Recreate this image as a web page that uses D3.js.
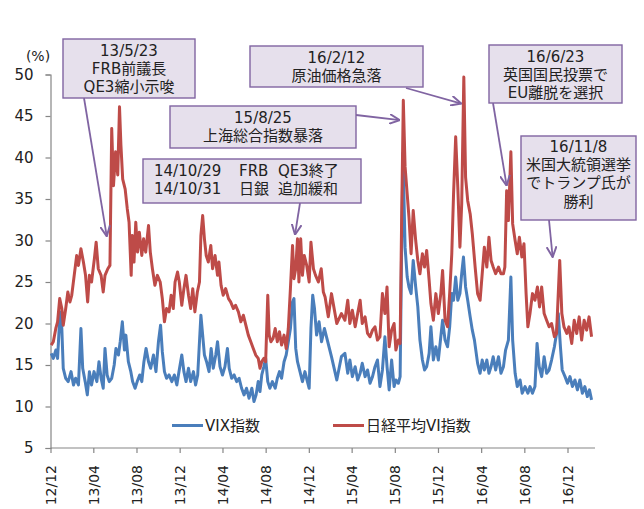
<!DOCTYPE html>
<html><head><meta charset="utf-8">
<script src="https://cdn.jsdelivr.net/npm/d3@7"></script>
<style>
html,body{margin:0;padding:0;background:#fff;}
svg text{font-family:'DejaVu Sans','Noto Sans CJK JP',sans-serif;fill:#222;}
</style></head>
<body><svg id="c" width="644" height="509"></svg>
<script>
// ---------- data ----------
const seriesNames = ["VIX指数", "日経平均VI指数"];
const yTickValues = [5,10,15,20,25,30,35,40,45,50];
const xTickLabels = ["12/12","13/04","13/08","13/12","14/04","14/08","14/12","15/04","15/08","15/12","16/04","16/08","16/12"];

const vixDates = ["2012-12-03","2012-12-09","2012-12-16","2012-12-21","2012-12-28","2013-01-02","2013-01-06","2013-01-13","2013-01-20","2013-01-28","2013-02-04","2013-02-10","2013-02-18","2013-02-25","2013-03-02","2013-03-09","2013-03-15","2013-03-21","2013-03-27","2013-04-03","2013-04-11","2013-04-17","2013-04-23","2013-04-29","2013-05-04","2013-05-10","2013-05-16","2013-05-23","2013-05-30","2013-06-04","2013-06-11","2013-06-16","2013-06-22","2013-06-28","2013-07-02","2013-07-09","2013-07-16","2013-07-21","2013-07-28","2013-08-03","2013-08-10","2013-08-16","2013-08-22","2013-08-28","2013-09-04","2013-09-10","2013-09-18","2013-09-25","2013-10-02","2013-10-08","2013-10-13","2013-10-19","2013-10-25","2013-11-01","2013-11-09","2013-11-16","2013-11-23","2013-11-29","2013-12-07","2013-12-13","2013-12-19","2013-12-26","2014-01-01","2014-01-09","2014-01-15","2014-01-21","2014-01-26","2014-01-30","2014-02-04","2014-02-09","2014-02-15","2014-02-22","2014-02-28","2014-03-06","2014-03-13","2014-03-18","2014-03-25","2014-04-01","2014-04-08","2014-04-15","2014-04-20","2014-04-27","2014-05-04","2014-05-11","2014-05-18","2014-05-25","2014-06-01","2014-06-08","2014-06-15","2014-06-23","2014-06-29","2014-07-05","2014-07-11","2014-07-16","2014-07-21","2014-07-27","2014-08-01","2014-08-07","2014-08-13","2014-08-20","2014-08-28","2014-09-03","2014-09-09","2014-09-15","2014-09-22","2014-09-28","2014-10-04","2014-10-10","2014-10-16","2014-10-20","2014-10-25","2014-10-30","2014-11-06","2014-11-13","2014-11-20","2014-11-27","2014-12-02","2014-12-07","2014-12-12","2014-12-17","2014-12-23","2014-12-30","2015-01-06","2015-01-14","2015-01-20","2015-02-03","2015-02-18","2015-03-03","2015-03-13","2015-03-21","2015-03-27","2015-04-03","2015-04-11","2015-04-18","2015-04-25","2015-05-01","2015-05-09","2015-05-16","2015-05-23","2015-05-30","2015-06-06","2015-06-13","2015-06-20","2015-06-27","2015-07-04","2015-07-10","2015-07-16","2015-07-23","2015-07-30","2015-08-04","2015-08-11","2015-08-16","2015-08-20","2015-08-24","2015-08-30","2015-09-05","2015-09-10","2015-09-16","2015-09-22","2015-09-29","2015-10-05","2015-10-11","2015-10-18","2015-10-24","2015-10-30","2015-11-06","2015-11-11","2015-11-18","2015-11-25","2015-12-02","2015-12-09","2015-12-14","2015-12-21","2015-12-28","2016-01-03","2016-01-09","2016-01-14","2016-01-20","2016-01-26","2016-02-01","2016-02-06","2016-02-11","2016-02-17","2016-02-23","2016-03-01","2016-03-07","2016-03-13","2016-03-22","2016-03-29","2016-04-04","2016-04-10","2016-04-17","2016-04-23","2016-04-29","2016-05-05","2016-05-12","2016-05-20","2016-05-27","2016-06-03","2016-06-09","2016-06-17","2016-06-24","2016-06-29","2016-07-06","2016-07-12","2016-07-20","2016-07-26","2016-08-03","2016-08-11","2016-08-17","2016-08-24","2016-08-31","2016-09-06","2016-09-12","2016-09-19","2016-09-26","2016-10-03","2016-10-10","2016-10-17","2016-10-25","2016-10-31","2016-11-05","2016-11-11","2016-11-16","2016-11-24","2016-12-01","2016-12-08","2016-12-15","2016-12-22","2016-12-29","2017-01-05","2017-01-12","2017-01-19","2017-01-26","2017-02-01","2017-02-07"];
const vixValues = [16.4,15.8,16.8,15.8,21.4,19.4,14.6,13.4,13.0,14.2,12.6,13.4,12.6,19.4,14.6,13.0,11.4,14.2,12.6,14.2,13.0,15.4,13.4,12.2,17.0,13.8,13.0,13.4,15.0,17.0,16.2,17.8,20.2,16.8,18.6,15.4,14.2,13.0,12.2,13.0,13.8,13.0,15.4,17.0,15.4,14.6,16.2,14.2,17.8,19.8,16.6,14.2,13.4,13.8,13.0,13.8,12.6,14.2,16.2,14.2,13.0,14.6,13.0,14.2,12.6,13.8,17.8,21.0,18.6,16.2,15.4,14.2,17.0,14.6,16.2,17.8,14.8,13.8,14.8,17.0,14.6,13.4,13.8,13.0,13.4,12.2,11.4,12.2,11.0,12.2,10.6,11.4,13.0,11.8,13.8,14.8,15.8,13.0,12.2,13.0,12.2,13.4,14.2,13.4,15.4,16.2,17.8,19.4,22.6,23.0,17.0,15.4,14.2,13.0,14.2,13.0,12.2,19.4,23.4,21.8,18.6,20.2,17.8,19.4,18.4,16.0,13.2,16.0,16.4,14.0,15.6,13.6,14.8,13.2,14.0,15.2,13.6,14.4,12.8,13.6,14.8,15.6,12.4,14.4,18.4,14.8,12.0,15.6,12.4,13.2,12.8,13.6,28.0,40.5,29.2,25.6,24.4,23.6,27.6,24.4,22.0,18.0,15.6,14.4,14.8,16.4,19.6,15.6,17.2,15.6,18.4,20.4,18.0,17.2,19.6,23.6,22.8,25.6,22.8,23.6,26.0,28.0,24.4,22.8,20.8,19.2,18.0,15.2,14.0,15.6,14.4,15.6,14.0,14.8,16.0,14.4,16.0,14.0,14.8,16.8,18.0,25.6,18.0,14.0,12.4,13.2,11.6,12.4,11.6,12.4,11.6,12.4,17.6,14.8,13.6,16.0,14.0,14.4,15.6,17.2,18.8,21.2,17.2,14.4,13.6,12.8,13.6,12.4,13.2,12.0,13.2,11.6,12.4,11.2,12.0,10.8];

const nkDates = ["2012-12-03","2012-12-09","2012-12-16","2012-12-21","2012-12-27","2013-01-02","2013-01-06","2013-01-13","2013-01-19","2013-01-25","2013-01-30","2013-02-06","2013-02-13","2013-02-18","2013-02-25","2013-03-04","2013-03-10","2013-03-16","2013-03-21","2013-03-27","2013-04-04","2013-04-09","2013-04-15","2013-04-23","2013-04-29","2013-05-04","2013-05-12","2013-05-18","2013-05-23","2013-05-28","2013-06-03","2013-06-09","2013-06-14","2013-06-18","2013-06-23","2013-06-30","2013-07-06","2013-07-11","2013-07-17","2013-07-20","2013-07-25","2013-07-30","2013-08-04","2013-08-09","2013-08-16","2013-08-21","2013-08-27","2013-09-04","2013-09-09","2013-09-15","2013-09-22","2013-09-29","2013-10-07","2013-10-13","2013-10-19","2013-10-25","2013-11-01","2013-11-07","2013-11-13","2013-11-18","2013-11-25","2013-11-30","2013-12-07","2013-12-13","2013-12-19","2013-12-26","2014-01-01","2014-01-07","2014-01-13","2014-01-20","2014-01-26","2014-01-30","2014-02-04","2014-02-09","2014-02-14","2014-02-20","2014-02-27","2014-03-04","2014-03-11","2014-03-18","2014-03-22","2014-03-28","2014-04-03","2014-04-10","2014-04-18","2014-04-24","2014-05-02","2014-05-08","2014-05-16","2014-05-23","2014-05-30","2014-06-06","2014-06-13","2014-06-20","2014-06-27","2014-07-04","2014-07-11","2014-07-16","2014-07-21","2014-07-27","2014-08-01","2014-08-07","2014-08-11","2014-08-16","2014-08-22","2014-08-28","2014-09-03","2014-09-09","2014-09-15","2014-09-22","2014-09-28","2014-10-04","2014-10-10","2014-10-16","2014-10-20","2014-10-25","2014-10-30","2014-11-03","2014-11-08","2014-11-13","2014-11-18","2014-11-25","2014-12-02","2014-12-07","2014-12-14","2014-12-20","2014-12-28","2015-01-05","2015-01-11","2015-01-16","2015-01-25","2015-02-03","2015-02-18","2015-03-03","2015-03-13","2015-03-21","2015-03-27","2015-04-03","2015-04-11","2015-04-18","2015-04-25","2015-05-01","2015-05-09","2015-05-16","2015-05-23","2015-05-30","2015-06-06","2015-06-13","2015-06-20","2015-06-27","2015-07-04","2015-07-10","2015-07-16","2015-07-23","2015-07-30","2015-08-04","2015-08-11","2015-08-16","2015-08-20","2015-08-25","2015-08-30","2015-09-05","2015-09-10","2015-09-16","2015-09-22","2015-09-29","2015-10-05","2015-10-11","2015-10-18","2015-10-24","2015-10-30","2015-11-06","2015-11-11","2015-11-18","2015-11-25","2015-12-02","2015-12-09","2015-12-14","2015-12-21","2015-12-28","2016-01-03","2016-01-09","2016-01-14","2016-01-20","2016-01-26","2016-02-01","2016-02-06","2016-02-12","2016-02-17","2016-02-23","2016-03-01","2016-03-07","2016-03-15","2016-03-22","2016-03-29","2016-04-04","2016-04-10","2016-04-17","2016-04-23","2016-04-29","2016-05-05","2016-05-12","2016-05-20","2016-05-27","2016-06-03","2016-06-07","2016-06-12","2016-06-17","2016-06-24","2016-06-29","2016-07-06","2016-07-12","2016-07-18","2016-07-25","2016-07-31","2016-08-06","2016-08-11","2016-08-17","2016-08-24","2016-08-31","2016-09-07","2016-09-13","2016-09-19","2016-09-26","2016-10-03","2016-10-10","2016-10-17","2016-10-25","2016-10-31","2016-11-09","2016-11-15","2016-11-21","2016-11-29","2016-12-05","2016-12-13","2016-12-20","2016-12-27","2017-01-03","2017-01-10","2017-01-17","2017-01-24","2017-01-31","2017-02-07"];
const nkValues = [17.4,17.8,19.4,20.2,23.0,21.8,19.8,21.8,23.8,22.6,23.4,25.8,28.2,27.0,29.0,27.4,25.8,22.6,25.8,25.0,27.8,29.8,26.6,25.8,23.8,25.8,26.6,27.0,43.5,36.6,40.7,37.9,46.1,41.5,37.4,36.2,33.8,32.2,25.8,30.6,27.4,32.2,28.6,31.0,28.2,30.2,28.6,31.8,28.6,26.6,24.6,25.8,25.0,23.0,20.2,21.8,21.4,23.4,21.8,25.0,26.2,25.0,22.2,24.2,25.8,23.4,21.8,24.2,21.4,23.8,25.0,30.6,33.0,30.2,28.2,27.4,29.4,26.6,28.2,25.8,27.4,24.6,23.4,24.2,23.0,22.6,21.8,22.2,21.4,20.2,21.0,19.8,18.6,17.8,17.0,16.2,15.8,14.6,15.4,15.8,15.4,23.4,18.6,17.8,18.2,19.4,17.8,19.0,17.4,18.6,17.0,19.4,24.2,29.4,25.4,26.6,30.2,25.0,30.2,25.8,28.2,27.0,25.0,29.8,26.6,25.8,25.0,26.6,23.8,23.2,20.8,23.6,20.0,21.2,20.4,22.8,20.0,21.6,19.6,21.2,22.8,20.0,20.8,18.8,18.4,19.2,19.6,18.0,18.4,23.6,21.2,24.4,17.2,19.2,20.0,16.8,18.0,17.6,31.6,46.9,38.9,35.6,32.8,28.4,33.6,30.0,27.6,26.0,28.4,26.8,28.8,25.2,22.4,20.4,23.6,21.2,23.6,26.4,20.4,19.6,23.6,28.4,35.6,42.5,36.4,29.2,34.4,49.7,37.6,34.8,33.2,30.8,26.8,23.6,22.8,26.0,29.2,26.8,30.4,27.6,26.8,26.0,26.8,26.0,26.0,26.8,36.0,32.4,40.7,32.0,30.0,28.4,30.4,28.0,29.6,23.6,19.6,21.2,23.6,22.8,24.4,22.0,24.4,21.2,20.4,19.6,20.0,18.4,18.8,27.6,21.2,19.6,18.8,19.6,17.6,20.4,18.8,20.8,18.0,20.4,19.2,20.8,18.4];

// ---------- layout ----------
const plot = {left: 50.5, right: 595, top: 74.5, bottom: 448};
const parse = d3.timeParse("%Y-%m-%d");
const x = d3.scaleTime()
  .domain([new Date(2012,11,1), new Date(2016,11,1)])
  .range([plot.left, 567.5]);
const y = d3.scaleLinear().domain([5,50]).range([plot.bottom, plot.top]);
const colors = {vix: "#4A7EBB", nk: "#BE4B48"};
const purple = "#8064A2";

const svg = d3.select("#c");

// axes
const xTickDates = xTickLabels.map(s => { const [yy, mm] = s.split("/"); return new Date(2000 + +yy, +mm - 1, 1); });
const axisColor = "#868686";
const gy = svg.append("g").attr("transform", `translate(${plot.left},0)`)
  .call(d3.axisLeft(y).tickValues(yTickValues).tickSize(5).tickPadding(12));
gy.select(".domain").attr("stroke", axisColor).attr("stroke-width", 1.2);
gy.selectAll(".tick line").attr("stroke", axisColor).attr("stroke-width", 1.2);
gy.selectAll(".tick text").style("font-size", "15px").attr("fill", "#222");

svg.append("line").attr("x1", plot.left).attr("x2", plot.right)
  .attr("y1", plot.bottom).attr("y2", plot.bottom).attr("stroke", axisColor).attr("stroke-width", 1.2);
const gx = svg.append("g").attr("transform", `translate(0,${plot.bottom})`)
  .call(d3.axisBottom(x).tickValues(xTickDates).tickSize(5).tickFormat((d,i) => xTickLabels[i]));
gx.select(".domain").remove();
gx.selectAll(".tick line").attr("stroke", axisColor).attr("stroke-width", 1.2);
gx.selectAll(".tick text").style("font-size", "14px").attr("fill", "#222")
  .attr("transform", "rotate(-90)").attr("text-anchor", "end")
  .attr("x", -17).attr("y", 0).attr("dy", "0.35em");

svg.append("text").attr("x", 38).attr("y", 56).attr("text-anchor", "middle")
  .attr("dominant-baseline", "central").style("font-size", "14px").text("(%)");

// lines
const line = d3.line().x(d => x(d.date)).y(d => y(d.value));
const vix = vixDates.map((d,i) => ({date: parse(d), value: vixValues[i]}));
const nk = nkDates.map((d,i) => ({date: parse(d), value: nkValues[i]}));
svg.append("path").datum(vix).attr("d", line).attr("fill", "none")
  .attr("stroke", colors.vix).attr("stroke-width", 3).attr("stroke-linejoin", "round");
svg.append("path").datum(nk).attr("d", line).attr("fill", "none")
  .attr("stroke", colors.nk).attr("stroke-width", 3).attr("stroke-linejoin", "round");

// legend
const legend = [
  {name: seriesNames[0], color: colors.vix, x: 172},
  {name: seriesNames[1], color: colors.nk, x: 333}
];
legend.forEach(l => {
  svg.append("line").attr("x1", l.x).attr("x2", l.x + 31).attr("y1", 425.5).attr("y2", 425.5)
    .attr("stroke", l.color).attr("stroke-width", 3);
  svg.append("text").attr("x", l.x + 33).attr("y", 425.5).attr("dominant-baseline", "central")
    .style("font-size", "15px").text(l.name);
});

// annotations
svg.append("defs").append("marker").attr("id", "arr")
  .attr("viewBox", "0 0 10 10").attr("refX", 9.5).attr("refY", 5)
  .attr("markerWidth", 11).attr("markerHeight", 11).attr("markerUnits", "userSpaceOnUse")
  .attr("orient", "auto")
  .append("path").attr("d", "M0,0.5 L9.5,5 L0,9.5").attr("fill", "none")
  .attr("stroke", purple).attr("stroke-width", 1.8);

const notes = [
  {box: [63, 39, 132, 59], lines: ["13/5/23", "FRB前議長", "QE3縮小示唆"], ly: [50.7, 69, 87.3],
   from: [84, 98], to: ["2013-05-09", 30.5]},
  {box: [250, 46, 173, 41], lines: ["16/2/12", "原油価格急落"], ly: [58.3, 75.7],
   from: [406, 88], to: ["2016-02-05", 46.5]},
  {box: [170, 106, 186, 42], lines: ["15/8/25", "上海総合指数暴落"], ly: [117.7, 136],
   from: [356, 115], to: ["2015-08-15", 44.5]},
  {box: [143, 159, 218, 44], cols: [["14/10/29", "FRB", "QE3終了"], ["14/10/31", "日銀", "追加緩和"]], cx: [154, 239, 278], ly: [171, 189],
   from: [300, 203], to: ["2014-10-23", 30.7]},
  {box: [489, 45, 133, 58], lines: ["16/6/23", "英国国民投票で", "EU離脱を選択"], ly: [56.7, 75, 93.3],
   from: [493, 103], to: ["2016-06-12", 36.6]},
  {box: [521, 136, 115, 84], lines: ["16/11/8", "米国大統領選挙", "でトランプ氏が", "勝利"], ly: [146.7, 165, 183.3, 201.7],
   from: [549, 220], to: ["2016-10-20", 28.0]}
];
notes.forEach(n => {
  svg.append("line").attr("x1", n.from[0]).attr("y1", n.from[1])
    .attr("x2", x(parse(n.to[0]))).attr("y2", y(n.to[1]))
    .attr("stroke", purple).attr("stroke-width", 1.8).attr("marker-end", "url(#arr)");
});
notes.forEach(n => {
  const [bx, by, bw, bh] = n.box;
  svg.append("rect").attr("x", bx).attr("y", by).attr("width", bw).attr("height", bh)
    .attr("fill", "#E6E0EC").attr("stroke", purple).attr("stroke-width", 1.4);
  if (n.lines) {
    n.lines.forEach((t, i) => svg.append("text").attr("x", bx + bw / 2).attr("y", n.ly[i])
      .attr("text-anchor", "middle").attr("dominant-baseline", "central")
      .style("font-size", "15px").text(t));
  } else {
    n.cols.forEach((row, r) => row.forEach((t, c) => svg.append("text")
      .attr("x", n.cx[c]).attr("y", n.ly[r]).attr("dominant-baseline", "central")
      .style("font-size", "15px").text(t)));
  }
});
</script></body></html>
